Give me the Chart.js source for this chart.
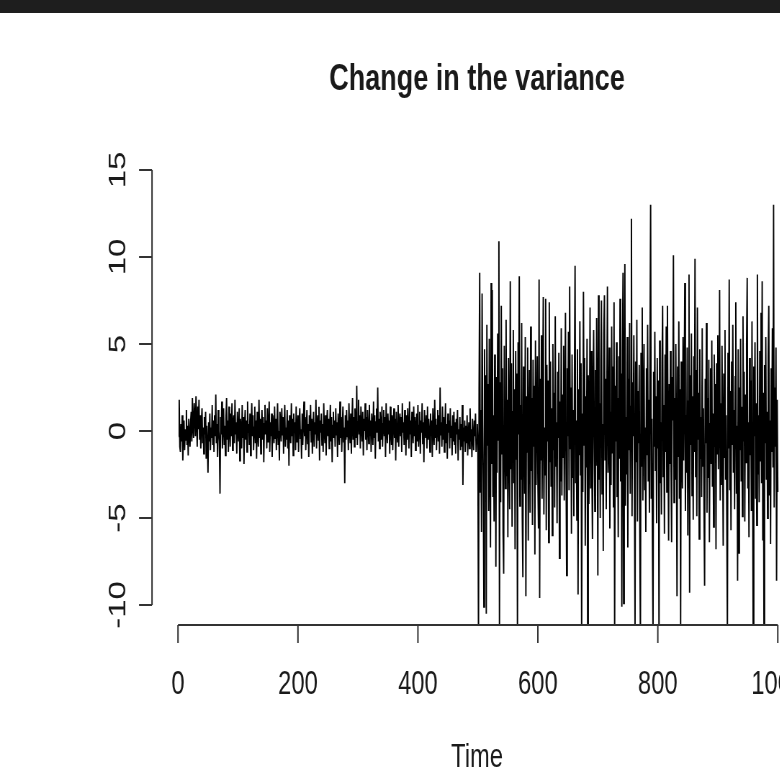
<!DOCTYPE html>
<html>
<head>
<meta charset="utf-8">
<script src="https://cdn.jsdelivr.net/npm/chart.js@4.4.0/dist/chart.umd.min.js"></script>
<style>
  html, body { margin: 0; padding: 0; background: #fff; overflow: hidden; }
  #topbar { position: absolute; left: 0; top: 0; width: 780px; height: 13px; background: #1e1e1e; z-index: 2; }
  #wrap { position: absolute; left: 0; top: 0; width: 1083px; height: 775px; transform: scaleX(0.72); transform-origin: 0 0; filter: blur(0.35px); }
</style>
</head>
<body>
<div id="topbar"></div>
<div id="wrap"><canvas id="chart" width="1083" height="775"></canvas></div>
<script>
// values for t = 1..500 (low variance part)
const firstHalf = [
  -0.3, 1.8, -0.9, -1.2, 0.4, -0.6, 0.9, -1.7, -0.2, 0.6, -1.1, 0.1, -0.5, 1.2, -0.8, 0.3, -1.4, 0.7, -0.2, -0.9,
  0.5, 1.1, -0.6, 1.9, 0.2, -0.4, 1.6, 0.8, -0.3, 2.0, 0.6, -0.9, 1.4, 0.1, 1.8, -0.5, 0.9, -1.0, 0.4, 1.3,
  -0.7, 0.2, -1.3, 0.8, -0.2, 1.1, -1.6, 0.3, -0.9, -2.4, 0.5, -0.6, 1.0, -1.1, 0.2, -0.4, 1.5, -0.8, 0.6, -1.2,
  0.9, -0.3, 2.1, -0.7, 0.4, -1.5, 1.2, 0.0, -0.6, -3.6, 0.8, -0.2, 1.7, -1.0, 0.5, 1.3, -0.8, 0.3, -1.4, 0.7,
  1.9, -0.5, 0.6, -1.2, 1.4, 0.2, -0.9, 1.0, -0.3, 1.6, -1.1, 0.4, 0.9, -0.7, 1.8, -0.2, 0.5, -1.3, 1.1, 0.0,
  -0.6, 1.3, -1.7, 0.7, 0.2, -1.0, 1.5, -0.4, 0.8, -1.9, 0.3, 1.2, -0.5, 0.6, -1.2, 1.7, -0.1, 0.4, -0.8, 1.0,
  -1.4, 0.5, 1.6, -0.3, 0.9, -1.1, 0.2, 1.4, -0.7, 0.6, -1.6, 1.1, 0.0, -0.9, 1.8, -0.4, 0.7, -1.3, 0.3, 1.2,
  -0.5, 0.8, -1.8, 0.4, 1.5, -0.2, 0.6, -1.0, 1.3, -0.6, 0.1, 1.7, -1.2, 0.5, -0.3, 1.0, -1.5, 0.9, 0.2, -0.7,
  1.4, -0.4, 0.7, -1.1, 0.3, 1.6, -0.8, 0.0, -1.7, 1.1, 0.5, -0.6, 1.3, -0.2, 0.8, -1.3, 0.4, 1.5, -0.9, 0.2,
  -0.5, 1.2, -1.0, 0.6, -2.0, 0.9, 0.3, -0.7, 1.6, -0.3, 0.7, -1.4, 1.0, -0.1, 0.5, -1.1, 1.4, -0.6, 0.2, 0.9,
  -1.2, 0.6, 1.3, -0.4, 0.1, -1.6, 1.0, -0.8, 0.5, 1.7, -0.3, 0.8, -1.1, 0.3, 1.2, -0.7, 0.4, -1.5, 0.9, 0.0,
  1.5, -0.6, 0.7, -1.3, 0.2, 1.1, -0.9, 0.5, -0.2, 1.8, -1.0, 0.3, 0.9, -0.5, 1.4, -1.7, 0.6, -0.1, 1.0, -0.8,
  0.4, -1.2, 1.6, 0.0, -0.7, 0.9, -1.4, 0.5, 1.2, -0.3, 0.7, -1.0, 0.2, 1.5, -0.6, 0.8, -1.8, 0.3, 1.1, -0.4,
  0.6, -0.9, 1.3, -0.2, 0.5, -1.5, 1.0, 0.1, -0.8, 1.7, -0.4, 0.8, -1.2, 0.3, 1.4, -0.6, 0.2, -3.0, 0.9, -0.5,
  1.2, -0.3, 0.6, -1.1, 1.6, 0.0, -0.7, 1.0, -1.3, 0.4, 1.9, -0.5, 0.8, -0.9, 1.3, 0.2, -0.4, 2.6, -0.8, 0.5,
  1.8, -0.2, 0.9, -1.0, 1.4, 0.3, -0.6, 1.1, -1.4, 0.7, 0.0, 1.6, -0.5, 0.8, -1.1, 1.2, 0.4, -0.7, 1.5, -0.3,
  0.6, -1.2, 1.0, 0.2, -0.8, 1.7, -0.4, 0.9, -1.6, 0.5, 1.3, -0.1, 2.5, -0.6, 0.7, -1.0, 1.1, 0.3, -0.5, 1.4,
  -0.9, 0.4, 1.2, -0.3, 0.8, -1.5, 1.6, 0.1, -0.7, 1.0, -0.2, 0.6, -1.3, 1.4, 0.0, -0.8, 0.9, -1.1, 0.5, 1.3,
  -0.4, 0.7, -1.7, 1.1, 0.2, -0.6, 1.5, -0.9, 0.4, 1.0, -0.3, 0.8, -1.2, 1.6, -0.1, 0.5, -0.8, 1.2, 0.3, -1.4,
  0.9, -0.5, 1.3, 0.0, -1.0, 1.7, -0.2, 0.6, -1.5, 1.1, 0.4, -0.7, 1.4, -0.3, 0.8, -1.1, 0.2, 1.0, -0.6, 1.5,
  -0.9, 0.3, 1.1, -1.3, 0.6, -0.1, 1.6, -0.7, 0.5, -1.8, 1.2, 0.2, -0.4, 0.9, -1.0, 1.4, -0.5, 0.7, 0.1, -1.2,
  1.0, -0.3, 0.6, -1.5, 1.3, 0.0, -0.8, 1.8, -0.4, 0.7, -1.1, 0.3, 1.2, -0.6, 0.9, -1.3, 2.5, -0.2, 0.5, -0.9,
  1.4, -0.5, 0.8, -1.2, 0.2, 1.6, -0.7, 0.4, -1.6, 1.0, -0.1, 0.6, -1.0, 1.3, -0.4, 0.3, -1.4, 0.9, -0.6, 1.1,
  -0.8, 0.5, -1.3, 0.7, -0.2, 1.2, -1.7, 0.1, -0.5, 0.8, -1.1, 0.4, -0.9, 1.5, -3.1, 0.2, -0.6, 0.6, -1.2, 0.3,
  -0.7, 0.9, -1.4, -0.2, 0.5, -1.0, 1.3, -0.6, 0.1, -1.5, 0.7, -0.4, -1.1, 0.6, -0.3, 1.0, -1.2, -0.5, 0.4, -0.8
];

// values for t = 501..1000 (high variance part)
const secondHalf = [
  -11.8, 2.3, 9.1, -3.5, 1.2, -5.8, 7.9, 0.6, -2.9, -10.1, 4.7, -1.4, 3.2, -10.5, 6.1, -0.8, 2.7, -4.6, 5.3, -2.1,
  -6.7, 8.5, -1.9, 8.1, -3.8, 0.9, -5.2, 4.4, 1.6, -7.8, 3.1, -2.4, 5.6, -0.5, 10.9, -11.5, 2.8, -4.1, 7.2, -1.3,
  3.6, -5.9, -8.2, 4.9, 0.3, -3.3, 6.4, -2.6, 1.8, -6.1, 4.2, -0.7, -4.5, 8.6, -2.2, 3.9, -5.5, 1.1, 5.8, -3.0,
  2.4, -6.8, 4.6, -1.6, 3.3, -11.9, 5.1, -0.2, 8.9, -4.3, 1.5, -2.8, 6.2, -5.0, -8.4, 3.7, 0.8, -3.6, 5.4, -9.5,
  2.0, -1.2, 4.8, -6.3, 0.4, 3.5, -4.7, 6.0, -2.3, 1.9, -5.4, 4.1, -0.9, 2.6, -7.1, 5.2, -3.1, 0.7, 4.3, -2.7,
  -5.6, 8.7, -9.6, 3.0, -1.7, 5.5, -3.9, 1.4, 7.7, -4.8, 0.2, -2.5, 7.6, -5.7, 3.8, -0.6, 2.9, -6.4, 7.4, -1.8,
  4.0, -3.2, 1.3, -6.0, 5.0, -1.1, 2.2, -4.4, 6.6, -2.0, 0.5, -5.3, 3.4, -0.4, 4.5, -7.3, 1.7, -2.9, 5.9, -3.7,
  2.1, -1.5, 4.9, -4.0, 0.9, 6.8, -2.2, -8.3, 3.6, -0.3, 5.7, -3.4, 8.3, -1.0, 2.5, -5.9, 4.4, -2.7, 1.2, -4.9,
  3.1, 9.5, -3.0, 0.6, -5.1, 4.7, -9.4, 2.4, -1.4, 6.3, -2.5, 3.9, -12.0, 1.0, -3.5, 8.0, -0.8, 4.2, -6.6, 2.0,
  -2.1, 5.3, -11.7, 3.2, -4.2, 0.1, 7.1, -3.3, 4.6, -1.9, -6.2, 2.7, 5.8, -0.5, -4.6, 3.5, -2.0, 6.5, 1.3, -8.3,
  7.8, -2.8, 1.6, -5.0, 4.1, 7.5, -3.6, 0.4, -6.9, 5.6, 7.8, -1.7, 3.0, -4.5, 2.2, 8.3, -2.4, -0.9, 4.8, -5.6,
  1.1, -3.1, 6.0, -1.3, 3.7, -4.4, 7.4, -11.6, 2.6, -0.6, 5.1, -3.8, 1.9, -6.1, 4.3, -1.6, 7.6, -2.9, 3.3, -10.1,
  4.6, 9.1, -9.9, 2.1, 9.6, -4.3, 0.8, -2.5, 5.4, -6.7, 3.0, -1.1, 6.2, -3.6, 1.4, 12.2, -4.9, 2.8, -0.3, 5.5,
  -3.2, -11.8, 4.0, -1.8, 6.4, -5.2, 2.3, -0.7, 3.8, -6.0, -12.1, 4.5, -2.0, 7.1, -4.0, 1.0, 5.0, -3.4, 0.2, -5.8,
  3.6, -1.4, 6.1, -2.9, 1.8, -4.7, 4.9, 13.0, -3.9, 0.7, -6.5, -11.9, 3.4, -0.9, 5.7, -2.3, 2.0, -5.3, 4.2, -1.0,
  2.9, -12.2, 5.2, -3.0, 0.5, -4.8, 3.9, 7.2, -2.6, 1.5, -5.9, 4.4, -1.2, 6.0, -3.5, 7.2, -0.4, -6.3, 2.7, -1.9,
  4.6, -2.2, -6.4, 3.1, 0.6, 10.1, -4.1, 1.9, -2.8, 5.0, -0.6, -9.5, 3.7, -1.5, 6.3, -3.9, 2.4, -11.8, 4.0, -0.2,
  -3.3, 5.4, -1.7, 2.6, 8.5, -4.6, 0.9, -2.4, 4.8, -6.0, 1.7, 9.0, -9.3, 3.2, -0.8, 5.6, -3.7, 2.0, -5.1, 4.3,
  -1.2, 9.9, -2.6, 3.5, -4.9, 7.1, -0.5, 2.2, -6.2, 4.7, -1.6, 0.8, -3.8, 5.9, -2.0, 1.3, -4.4, -8.9, 3.0, -0.7,
  6.2, -4.7, 1.9, -2.7, 4.1, -6.4, 0.4, 3.6, -1.9, 5.2, -3.2, 1.0, -5.5, 4.4, -0.9, 2.7, -6.8, 3.9, -1.3, 5.5,
  -2.2, 0.6, 8.1, -4.0, 1.6, -3.1, 4.9, -0.4, -6.6, 3.3, -1.5, 5.8, -2.8, 0.9, -5.0, -11.7, 4.5, -1.0, 8.7, -3.4,
  2.3, -5.7, 4.0, -0.8, 6.1, -2.4, 1.2, -4.5, 3.1, 7.4, -3.6, 0.3, -8.6, 4.7, -7.0, 2.5, -1.1, 5.3, -2.9, 1.4,
  -4.9, 6.6, -0.6, 3.4, -5.2, 2.1, -1.8, 5.0, 8.8, -3.3, 0.5, -6.1, 4.2, -1.4, 2.9, -4.6, 6.3, -2.0, -11.9, 3.7,
  -0.3, 5.1, -3.9, 1.6, -5.4, 9.0, -2.5, 0.9, -4.1, 4.6, -1.7, 6.8, -3.0, 8.6, -6.3, 2.2, -12.0, 3.8, -0.7, 5.4,
  -2.8, 1.1, -5.0, 4.3, 7.2, -3.7, 0.6, -6.5, 3.6, -1.2, 5.9, -2.1, 13.0, -4.4, 2.5, -0.9, 4.8, -8.6, 1.8, -3.5
];

const xTicks = [0, 200, 400, 600, 800, 1000];
const yTicks = [-10, -5, 0, 5, 10, 15];
const titleText = 'Change in the variance';
const xTitle = 'Time';

// the picture is squeezed horizontally, so the canvas is drawn wider and scaled down
const SX = 0.72;
const FONT = '"Liberation Sans", Arial, sans-serif';
const FS = 33;
const TICK = 18;

const series = firstHalf.concat(secondHalf).map((v, i) => ({ x: i + 1, y: v }));

const rAxes = {
  id: 'rAxes',
  afterDraw(chart) {
    const { ctx, chartArea, scales: { x, y } } = chart;
    ctx.save();
    ctx.strokeStyle = '#333';
    ctx.lineWidth = 2;

    // y axis, R style: line from first to last tick
    const ax = chartArea.left;
    ctx.beginPath();
    ctx.moveTo(ax, y.getPixelForValue(yTicks[0]));
    ctx.lineTo(ax, y.getPixelForValue(yTicks[yTicks.length - 1]));
    yTicks.forEach(v => {
      const py = y.getPixelForValue(v);
      ctx.moveTo(ax, py);
      ctx.lineTo(ax - TICK, py);
    });
    // x axis
    const ay = chartArea.bottom;
    ctx.moveTo(x.getPixelForValue(xTicks[0]), ay);
    ctx.lineTo(x.getPixelForValue(xTicks[xTicks.length - 1]), ay);
    xTicks.forEach(v => {
      const px = x.getPixelForValue(v);
      ctx.moveTo(px, ay);
      ctx.lineTo(px, ay + TICK);
    });
    ctx.stroke();

    ctx.fillStyle = '#1a1a1a';
    ctx.font = FS + 'px ' + FONT;
    ctx.textBaseline = 'alphabetic';
    ctx.textAlign = 'center';
    xTicks.forEach(v => {
      ctx.fillText(String(v), x.getPixelForValue(v), 694);
    });
    // rotated y labels
    yTicks.forEach(v => {
      ctx.save();
      ctx.translate(116.5 / SX + 0.358 * FS, y.getPixelForValue(v));
      ctx.rotate(-Math.PI / 2);
      ctx.fillText(String(v), 0, 0);
      ctx.restore();
    });

    const cx = 477 / SX;
    ctx.fillText(xTitle, cx, 767);
    ctx.font = 'bold 37.5px ' + FONT;
    ctx.fillText(titleText, cx, 90);
    ctx.restore();
  }
};

new Chart(document.getElementById('chart'), {
  type: 'line',
  data: {
    datasets: [{
      data: series,
      borderColor: '#000',
      borderWidth: 1.9,
      pointRadius: 0,
      tension: 0,
      fill: false
    }]
  },
  options: {
    responsive: false,
    animation: false,
    devicePixelRatio: 1,
    parsing: false,
    layout: { padding: { left: 152 / SX, right: 0, top: 170, bottom: 150 } },
    scales: {
      x: { type: 'linear', display: false, min: -26 / 0.6, max: 602 / 0.6 },
      y: { type: 'linear', display: false, min: -455 / 17.4 + 15, max: 15 }
    },
    plugins: { legend: { display: false }, tooltip: { enabled: false }, title: { display: false } }
  },
  plugins: [rAxes]
});
</script>
</body>
</html>
